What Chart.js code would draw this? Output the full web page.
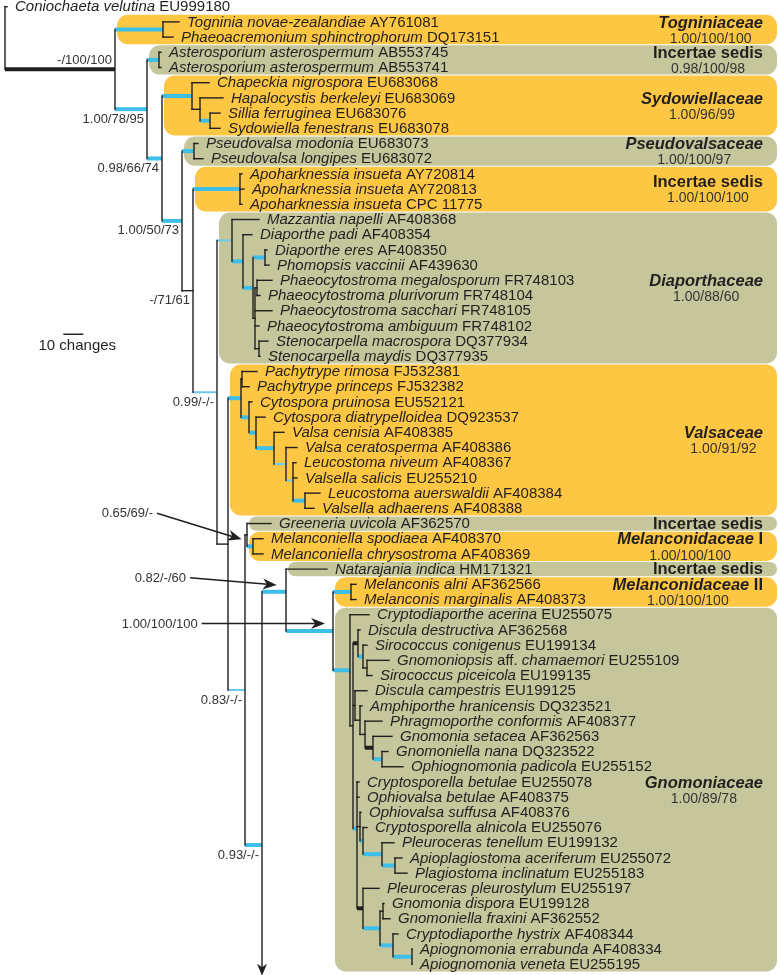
<!DOCTYPE html>
<html>
<head>
<meta charset="utf-8">
<script src="https://cdn.jsdelivr.net/npm/chart.js@4.4.1/dist/chart.umd.min.js"></script>
<style>
  html, body { margin: 0; padding: 0; background: #fff; }
  #wrap { width: 779px; height: 975px; position: relative; }
</style>
</head>
<body>
<div id="wrap"><canvas id="tree"></canvas></div>
<script>
// taxa, top to bottom (one row each)
const leafNames = [
  'Coniochaeta velutina', 'Togninia novae-zealandiae', 'Phaeoacremonium sphinctrophorum',
  'Asterosporium asterospermum', 'Asterosporium asterospermum',
  'Chapeckia nigrospora', 'Hapalocystis berkeleyi', 'Sillia ferruginea', 'Sydowiella fenestrans',
  'Pseudovalsa modonia', 'Pseudovalsa longipes',
  'Apoharknessia insueta', 'Apoharknessia insueta', 'Apoharknessia insueta',
  'Mazzantia napelli', 'Diaporthe padi', 'Diaporthe eres', 'Phomopsis vaccinii',
  'Phaeocytostroma megalosporum', 'Phaeocytostroma plurivorum', 'Phaeocytostroma sacchari',
  'Phaeocytostroma ambiguum', 'Stenocarpella macrospora', 'Stenocarpella maydis',
  'Pachytrype rimosa', 'Pachytrype princeps', 'Cytospora pruinosa', 'Cytospora diatrypelloidea',
  'Valsa cenisia', 'Valsa ceratosperma', 'Leucostoma niveum', 'Valsella salicis',
  'Leucostoma auerswaldii', 'Valsella adhaerens',
  'Greeneria uvicola', 'Melanconiella spodiaea', 'Melanconiella chrysostroma',
  'Natarajania indica', 'Melanconis alni', 'Melanconis marginalis',
  'Cryptodiaporthe acerina', 'Discula destructiva', 'Sirococcus conigenus',
  'Gnomoniopsis aff. chamaemori', 'Sirococcus piceicola', 'Discula campestris',
  'Amphiporthe hranicensis', 'Phragmoporthe conformis', 'Gnomonia setacea', 'Gnomoniella nana',
  'Ophiognomonia padicola', 'Cryptosporella betulae', 'Ophiovalsa betulae', 'Ophiovalsa suffusa',
  'Cryptosporella alnicola', 'Pleuroceras tenellum', 'Apioplagiostoma aceriferum',
  'Plagiostoma inclinatum', 'Pleuroceras pleurostylum', 'Gnomonia dispora', 'Gnomoniella fraxini',
  'Cryptodiaporthe hystrix', 'Apiognomonia errabunda', 'Apiognomonia veneta'
];
const leafAccessions = [
  'EU999180', 'AY761081', 'DQ173151', 'AB553745', 'AB553741',
  'EU683068', 'EU683069', 'EU683076', 'EU683078', 'EU683073', 'EU683072',
  'AY720814', 'AY720813', 'CPC 11775',
  'AF408368', 'AF408354', 'AF408350', 'AF439630', 'FR748103', 'FR748104', 'FR748105',
  'FR748102', 'DQ377934', 'DQ377935',
  'FJ532381', 'FJ532382', 'EU552121', 'DQ923537', 'AF408385', 'AF408386', 'AF408367',
  'EU255210', 'AF408384', 'AF408388',
  'AF362570', 'AF408370', 'AF408369', 'HM171321', 'AF362566', 'AF408373',
  'EU255075', 'AF362568', 'EU199134', 'EU255109', 'EU199135', 'EU199125', 'DQ323521',
  'AF408377', 'AF362563', 'DQ323522', 'EU255152', 'EU255078', 'AF408375', 'AF408376',
  'EU255076', 'EU199132', 'EU255072', 'EU255183', 'EU255197', 'EU199128', 'AF362552',
  'AF408344', 'AF408334', 'EU255195'
];
// tip position, changes from the root
const leafDepth = [
  1, 87, 84, 78, 78, 102, 109, 107.5, 107.5, 96.5, 99, 118.5, 119.5, 118.5,
  127, 123.5, 131, 132, 133.5, 127.5, 133.5, 127, 131.5, 127.5,
  126, 122, 123.5, 130, 139.5, 146, 145.5, 146, 157.5, 154.5,
  133, 129, 129, 161, 175.5, 175.5,
  182, 177.5, 181, 192, 183.5, 181, 178.5, 188.5, 193.5, 191.5, 199,
  177, 177, 178, 181, 194.5, 198.5, 201, 187, 189.5, 192.5, 196.5, 203.5, 203.5
];
const leafParent = [
  'root', 'togn', 'togn', 'aster', 'aster', 'syd', 'syd1', 'syd2', 'syd2', 'pseudo', 'pseudo',
  'apoh', 'apoh', 'apoh', 'dia', 'dia2', 'dia4', 'dia4', 'dia6', 'dia6', 'dia5', 'dia5', 'dia9', 'dia9',
  'pachy', 'pachy', 'val2', 'val3', 'val4', 'val5', 'val6', 'val6', 'val7', 'val7',
  'D', 'melc', 'melc', 'F', 'melII', 'melII',
  'H', 'Q1', 'Q1a', 'Q1b', 'Q1b', 'Q2', 'Q2a', 'Q2b', 'Q2c', 'Q2d', 'Q2d',
  'R', 'R', 'R1a', 'R1b', 'R1c', 'R1d', 'R1d', 'R2', 'R2b', 'R2b', 'R2c', 'R2d', 'R2d'
];

// internal nodes
const nodeIds = ['root', 'I', 'togn', 'A1', 'aster', 'A2', 'syd', 'syd1', 'syd2', 'A3', 'pseudo', 'A4',
  'apoh', 'nA', 'dia', 'dia2', 'dia3', 'dia4', 'dia5', 'dia6', 'dia9', 'B', 'val', 'pachy', 'val2',
  'val3', 'val4', 'val5', 'val6', 'val7', 'C', 'D', 'melc', 'E', 'F', 'G', 'melII', 'H', 'H2',
  'Q1', 'Q1a', 'Q1b', 'Q2', 'Q2a', 'Q2b', 'Q2c', 'Q2d', 'R', 'R1a', 'R1b', 'R1c', 'R1d',
  'R2', 'R2a', 'R2b', 'R2c', 'R2d'];
const nodeDepth = [0, 55, 79, 71, 77, 78.5, 93.5, 97.5, 102.5, 88.5, 94.5, 94,
  117.5, 106, 113.5, 119, 124, 130, 125, 126, 127, 111.5, 118, 118.5, 122,
  125.5, 134.5, 140.5, 144, 150, 120, 121, 124, 128.5, 140.5, 164, 173, 172.5, 174,
  176.5, 179, 181, 175, 177.5, 180, 184, 188.5, 176, 177.5, 179, 188.5, 195,
  179, 187.5, 189, 194, 203.5];
const nodeParent = [null, 'root', 'I', 'I', 'A1', 'A1', 'A2', 'syd', 'syd1', 'A2', 'A3', 'A3',
  'A4', 'A4', 'nA', 'dia', 'dia2', 'dia3', 'dia3', 'dia5', 'dia5', 'nA', 'B', 'val', 'val',
  'val2', 'val3', 'val4', 'val5', 'val6', 'B', 'C', 'D', 'C', 'E', 'F', 'G', 'G', 'H',
  'H2', 'Q1', 'Q1a', 'H2', 'Q2', 'Q2a', 'Q2b', 'Q2c', 'H2', 'R', 'R1a', 'R1b', 'R1c',
  'R', 'R2', 'R2a', 'R2a', 'R2c'];
// rows read off the figure where the drawing does not centre the node
const fixedRow = { E: 55.15, F: 38.49 };
const arrowNode = 'E'; // lineage runs on down the page

// branch support shading
const thickBlue = ['togn', 'A1', 'aster', 'A2', 'syd', 'syd2', 'A3', 'pseudo', 'apoh', 'dia2', 'dia3',
  'dia4', 'val', 'val2', 'val3', 'val4', 'val7', 'melc', 'melII', 'H', 'F', 'G', 'E', 'Q1a', 'Q2d',
  'R', 'R1b', 'R1c', 'R1d', 'R2a', 'R2c', 'R2d'];
const thinBlue = ['nA', 'dia', 'C', 'val5', 'val6'];
const thickBlack = ['I', 'Q1', 'Q2c', 'R2'];

// support values on the backbone
const supportNodes = ['I', 'A1', 'A2', 'A3', 'A4', 'nA', 'C', 'E'];
const supportText = ['-/100/100', '1.00/78/95', '0.98/66/74', '1.00/50/73', '-/71/61', '0.99/-/-', '0.83/-/-', '0.93/-/-'];
const arrowNodes = ['D', 'F', 'G'];
const arrowText = ['0.65/69/-', '0.82/-/60', '1.00/100/100'];

// shaded clades
const cladeNodes = ['togn', 'aster', 'syd', 'pseudo', 'apoh', 'dia', 'val', 'L34', 'melc', 'L37', 'melII', 'H'];
const cladeNames = ['Togniniaceae', 'Incertae sedis', 'Sydowiellaceae', 'Pseudovalsaceae', 'Incertae sedis',
  'Diaporthaceae', 'Valsaceae', 'Incertae sedis', 'Melanconidaceae', 'Incertae sedis', 'Melanconidaceae', 'Gnomoniaceae'];
const cladeSuffix = ['', '', '', '', '', '', '', '', ' I', '', ' II', ''];
const cladeItalic = [true, false, true, true, false, true, true, false, true, false, true, true];
const cladeSupport = ['1.00/100/100', '0.98/100/98', '1.00/96/99', '1.00/100/97', '1.00/100/100',
  '1.00/88/60', '1.00/91/92', '', '1.00/100/100', '', '1.00/100/100', '1.00/89/78'];

const scaleBarChanges = 10;

// ---- layout ----
const FONT = "'Liberation Sans', Arial, sans-serif";
const ORANGE = '#FEC743', OLIVE = '#C5C69B', CYAN = '#3DBFEA', CYAN_THIN = '#6CCBEC', INK = '#231F20';

const depthOf = {}, parentOf = {}, rowOf = {}, kids = {};
nodeIds.forEach((id, i) => { depthOf[id] = nodeDepth[i]; parentOf[id] = nodeParent[i]; kids[id] = []; });
leafNames.forEach((n, i) => { const id = 'L' + i; depthOf[id] = leafDepth[i]; parentOf[id] = leafParent[i]; rowOf[id] = i; });
Object.keys(parentOf).forEach(id => { if (parentOf[id]) kids[parentOf[id]].push(id); });

function getRow(id) {
  if (rowOf[id] !== undefined) return rowOf[id];
  if (fixedRow[id] !== undefined) return (rowOf[id] = fixedRow[id]);
  const ks = kids[id];
  rowOf[id] = ks.reduce((s, k) => s + getRow(k), 0) / ks.length;
  return rowOf[id];
}
function leafRange(id) {
  if (id[0] === 'L') return [rowOf[id], rowOf[id]];
  let lo = Infinity, hi = -Infinity;
  kids[id].forEach(k => { const r = leafRange(k); lo = Math.min(lo, r[0]); hi = Math.max(hi, r[1]); });
  return [lo, hi];
}
Object.keys(parentOf).forEach(getRow);

const points = Object.keys(parentOf).map(id => ({ x: depthOf[id], y: rowOf[id] }));

function roundBox(ctx, x0, y0, x1, y1, r) {
  ctx.beginPath();
  ctx.moveTo(x0 + r, y0);
  ctx.arcTo(x1, y0, x1, y1, r);
  ctx.arcTo(x1, y1, x0, y1, r);
  ctx.arcTo(x0, y1, x0, y0, r);
  ctx.arcTo(x0, y0, x1, y0, r);
  ctx.closePath();
  ctx.fill();
}

function arrowHead(ctx, tx, ty, ang, len, half) {
  ctx.save();
  ctx.translate(tx, ty);
  ctx.rotate(ang);
  ctx.beginPath();
  ctx.moveTo(0, 0);
  ctx.lineTo(-len, -half);
  ctx.lineTo(-len * 0.7, 0);
  ctx.lineTo(-len, half);
  ctx.closePath();
  ctx.fill();
  ctx.restore();
}

const treePlugin = {
  id: 'tree',
  beforeDatasetsDraw(chart) {
    const ctx = chart.ctx;
    const X = v => chart.scales.x.getPixelForValue(v);
    const Y = v => chart.scales.y.getPixelForValue(v);
    ctx.save();

    // clade boxes
    cladeNodes.forEach((id, i) => {
      const [r0, r1] = leafRange(id);
      const x0 = X(depthOf[parentOf[id]]) + 2;
      const y0 = Y(r0) - 7.1, y1 = Y(r1) + 7.1;
      ctx.fillStyle = i % 2 === 0 ? ORANGE : OLIVE;
      roundBox(ctx, x0, y0, 777, y1, Math.min(11, (y1 - y0) / 2));
    });

    // horizontal branches
    Object.keys(parentOf).forEach(id => {
      const p = parentOf[id];
      if (!p) return;
      const y = Y(rowOf[id]);
      ctx.beginPath();
      if (thickBlue.includes(id)) { ctx.strokeStyle = CYAN; ctx.lineWidth = 4; ctx.lineCap = 'butt'; }
      else if (thinBlue.includes(id)) { ctx.strokeStyle = CYAN_THIN; ctx.lineWidth = 2; ctx.lineCap = 'butt'; }
      else if (thickBlack.includes(id)) { ctx.strokeStyle = INK; ctx.lineWidth = 4; ctx.lineCap = 'butt'; }
      else { ctx.strokeStyle = INK; ctx.lineWidth = 1.4; ctx.lineCap = 'square'; }
      ctx.moveTo(X(depthOf[p]), y);
      ctx.lineTo(X(depthOf[id]), y);
      ctx.stroke();
    });

    // vertical connectors
    ctx.strokeStyle = INK; ctx.lineWidth = 1.4; ctx.lineCap = 'square';
    nodeIds.forEach(id => {
      const rs = kids[id].map(k => rowOf[k]);
      let lo = Math.min(...rs), hi = Math.max(...rs);
      if (id === arrowNode) hi = 63.35;
      const x = X(depthOf[id]);
      ctx.beginPath();
      ctx.moveTo(x, Y(lo));
      ctx.lineTo(x, Y(hi));
      ctx.stroke();
      if (id === arrowNode) {
        ctx.fillStyle = INK;
        arrowHead(ctx, x, Y(hi) + 6, Math.PI / 2, 12, 5);
      }
    });

    // leaf labels
    ctx.fillStyle = INK;
    ctx.textBaseline = 'middle';
    ctx.textAlign = 'left';
    leafNames.forEach((name, i) => {
      let x = X(leafDepth[i]) + 8;
      const y = Y(i) + 0.5;
      name.split(' ').forEach(w => {
        ctx.font = (w === 'aff.' ? '' : 'italic ') + '15px ' + FONT;
        ctx.fillText(w + ' ', x, y);
        x += ctx.measureText(w + ' ').width;
      });
      ctx.font = '15px ' + FONT;
      ctx.fillText(leafAccessions[i], x, y);
    });

    // clade names and supports
    cladeNodes.forEach((id, i) => {
      const [r0, r1] = leafRange(id);
      const mid = (Y(r0) + Y(r1)) / 2;
      const hasSup = cladeSupport[i] !== '';
      const ny = hasSup ? mid - 6.5 : mid + 0.5;
      const right = 763;
      ctx.font = 'bold 16.5px ' + FONT;
      const sw = cladeSuffix[i] ? ctx.measureText(cladeSuffix[i]).width : 0;
      ctx.font = (cladeItalic[i] ? 'italic ' : '') + 'bold 16.5px ' + FONT;
      const nw = ctx.measureText(cladeNames[i]).width;
      ctx.fillStyle = INK;
      ctx.textAlign = 'left';
      ctx.fillText(cladeNames[i], right - sw - nw, ny);
      if (sw) { ctx.font = 'bold 16.5px ' + FONT; ctx.fillText(cladeSuffix[i], right - sw, ny); }
      if (hasSup) {
        ctx.font = '14px ' + FONT;
        ctx.fillStyle = '#333';
        ctx.textAlign = 'center';
        ctx.fillText(cladeSupport[i], right - (sw + nw) / 2, mid + 9.5);
      }
    });

    // backbone supports
    ctx.font = '13px ' + FONT;
    ctx.fillStyle = '#333';
    ctx.textAlign = 'right';
    supportNodes.forEach((id, i) => {
      const above = id === 'I';
      ctx.fillText(supportText[i], X(depthOf[id]) - 3, Y(rowOf[id]) + (above ? -8.5 : 10));
    });

    // arrowed supports (offsets in pixels from the node)
    const tipOff = [[-5.3, 4.4], [-9.3, -6.7], [-8, -7.5]];
    const startOff = [[-84.7, -26], [-86.7, -7.3], [-123.3, 0]];
    arrowNodes.forEach((id, i) => {
      const tx = X(depthOf[id]) + tipOff[i][0], ty = Y(rowOf[id]) + tipOff[i][1];
      const sx = tx + startOff[i][0], sy = ty + startOff[i][1];
      const ang = Math.atan2(ty - sy, tx - sx);
      ctx.strokeStyle = INK; ctx.lineWidth = 1.5; ctx.lineCap = 'butt';
      ctx.beginPath();
      ctx.moveTo(sx, sy);
      ctx.lineTo(tx - Math.cos(ang) * 9, ty - Math.sin(ang) * 9);
      ctx.stroke();
      ctx.fillStyle = INK;
      arrowHead(ctx, tx, ty, ang, 14, 5.5);
      ctx.fillStyle = '#333';
      ctx.font = '13px ' + FONT;
      ctx.textAlign = 'right';
      ctx.fillText(arrowText[i], sx - 4, sy + 0.5);
    });

    // scale bar
    const sb0 = 29.15, sbRow = 21.55;
    const bx0 = X(sb0), bx1 = X(sb0 + scaleBarChanges), by = Y(sbRow);
    ctx.strokeStyle = INK; ctx.lineWidth = 1.5;
    ctx.beginPath(); ctx.moveTo(bx0, by); ctx.lineTo(bx1, by); ctx.stroke();
    ctx.fillStyle = INK;
    ctx.font = '15px ' + FONT;
    ctx.textAlign = 'center';
    ctx.fillText(scaleBarChanges + ' changes', (bx0 + bx1) / 2 + 4, by + 12);

    ctx.restore();
  }
};

new Chart(document.getElementById('tree'), {
  type: 'scatter',
  data: { datasets: [{ data: points, pointRadius: 0, pointHoverRadius: 0 }] },
  options: {
    responsive: true,
    maintainAspectRatio: false,
    animation: false,
    events: [],
    layout: { padding: 0 },
    plugins: { legend: { display: false }, tooltip: { enabled: false } },
    scales: {
      x: { type: 'linear', min: -2.5, max: 387, display: false },
      y: { type: 'linear', min: -0.4408, max: 63.7, reverse: true, display: false }
    }
  },
  plugins: [treePlugin]
});
</script>
</body>
</html>
